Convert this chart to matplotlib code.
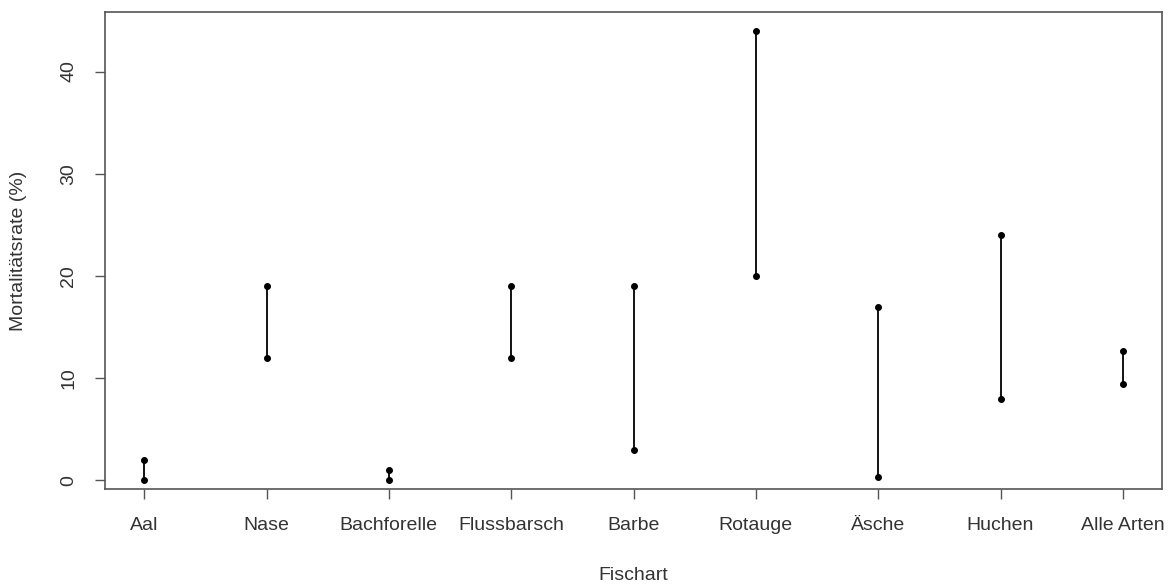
import matplotlib.pyplot as plt

# Mortalitaetsrate je Fischart (untere / obere Grenze)
arten = ['Aal', 'Nase', 'Bachforelle', 'Flussbarsch', 'Barbe',
         'Rotauge', 'Äsche', 'Huchen', 'Alle Arten']
unten = [0, 12, 0, 12, 3, 20, 0.3, 8, 9.4]
oben = [2, 19, 1, 19, 19, 44, 17, 24, 12.7]

plt.rcParams['font.family'] = ['Liberation Sans', 'DejaVu Sans']

fig = plt.figure(figsize=(11.71, 5.85), dpi=100)
ax = fig.add_axes([0.0897, 0.164, 0.9026, 0.815])

x = list(range(1, len(arten) + 1))
ax.vlines(x, unten, oben, color='black', linewidth=1.3)
ax.plot(x, unten, 'o', color='black', markersize=4)
ax.plot(x, oben, 'o', color='black', markersize=4)

ax.set_xlim(0.68, 9.32)
ax.set_ylim(-0.85, 45.8)
ax.set_xticks(x)
ax.set_xticklabels(arten)
ax.set_yticks([0, 10, 20, 30, 40])
ax.set_yticklabels(['0', '10', '20', '30', '40'], rotation=90, va='center')

for s in ax.spines.values():
    s.set_color('#555555')
    s.set_linewidth(1.2)
ax.tick_params(colors='#555555', labelcolor='#333333', labelsize=14,
               length=7, width=1)
ax.tick_params(axis='x', pad=13)
ax.tick_params(axis='y', pad=13)

ax.set_xlabel('Fischart', fontsize=14, color='#333333', labelpad=24)
ax.set_ylabel('Mortalitätsrate (%)', fontsize=14, color='#333333', labelpad=24)

fig.savefig('out.png', dpi=100)
